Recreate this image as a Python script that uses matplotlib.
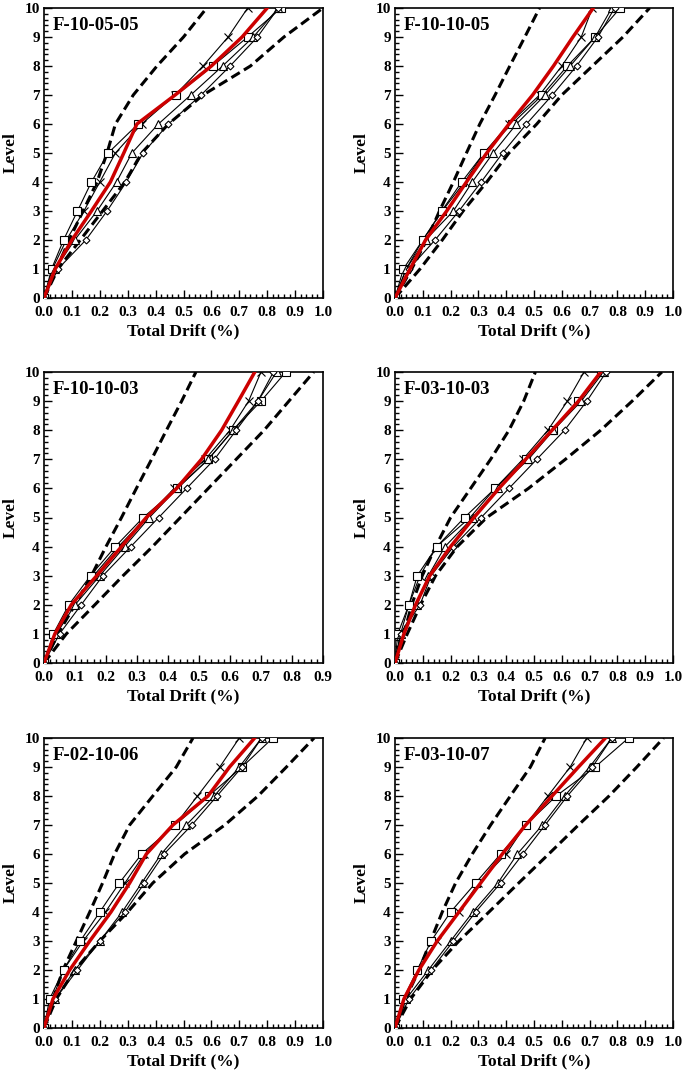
import matplotlib
matplotlib.use("Agg")
import matplotlib.pyplot as plt
from matplotlib.ticker import MultipleLocator
import numpy as np

plt.rcParams['font.family'] = ['Liberation Serif', 'DejaVu Serif']
plt.rcParams['font.weight'] = 'bold'

levels = [0, 1, 2, 3, 4, 5, 6, 7, 8, 9, 10]
panel_titles = ["F-10-05-05", "F-10-10-05", "F-10-10-03", "F-03-10-03", "F-02-10-06", "F-03-10-07"]
panel_xmax = [1.0, 1.0, 0.9, 1.0, 1.0, 1.0]

# upper (left) dashed bound
upper_bound = [
    [0, 0.045, 0.09, 0.14, 0.19, 0.226, 0.256, 0.32, 0.405, 0.50, 0.583],
    [0, 0.06, 0.114, 0.16, 0.21, 0.257, 0.305, 0.36, 0.413, 0.467, 0.52],
    [0, 0.045, 0.10, 0.153, 0.20, 0.25, 0.298, 0.347, 0.395, 0.444, 0.49],
    [0, 0.032, 0.06, 0.098, 0.146, 0.20, 0.272, 0.344, 0.41, 0.463, 0.505],
    [0, 0.032, 0.068, 0.116, 0.164, 0.21, 0.253, 0.307, 0.39, 0.474, 0.534],
    [0, 0.038, 0.086, 0.128, 0.17, 0.218, 0.278, 0.344, 0.415, 0.487, 0.54],
]
# lower (right) dashed bound
lower_bound = [
    [0, 0.05, 0.13, 0.21, 0.29, 0.35, 0.446, 0.57, 0.74, 0.86, 1.0],
    [0, 0.09, 0.17, 0.245, 0.33, 0.41, 0.51, 0.60, 0.71, 0.82, 0.916],
    [0, 0.072, 0.164, 0.255, 0.35, 0.44, 0.53, 0.62, 0.71, 0.79, 0.87],
    [0, 0.044, 0.092, 0.146, 0.224, 0.33, 0.48, 0.613, 0.74, 0.853, 0.96],
    [0, 0.044, 0.11, 0.20, 0.30, 0.39, 0.504, 0.648, 0.767, 0.869, 0.968],
    [0, 0.056, 0.134, 0.23, 0.338, 0.445, 0.553, 0.66, 0.77, 0.87, 0.966],
]
# mean response (red)
mean_drift = [
    [0, 0.04, 0.10, 0.17, 0.238, 0.286, 0.333, 0.47, 0.60, 0.71, 0.80],
    [0, 0.054, 0.11, 0.186, 0.257, 0.33, 0.41, 0.495, 0.57, 0.64, 0.713],
    [0, 0.035, 0.088, 0.17, 0.25, 0.33, 0.428, 0.508, 0.573, 0.627, 0.68],
    [0, 0.032, 0.074, 0.125, 0.20, 0.284, 0.374, 0.47, 0.565, 0.66, 0.74],
    [0, 0.032, 0.092, 0.164, 0.24, 0.307, 0.367, 0.462, 0.588, 0.665, 0.755],
    [0, 0.032, 0.086, 0.152, 0.23, 0.308, 0.386, 0.47, 0.565, 0.66, 0.757],
]
# individual records
rec_x = [
    [0, 0.03, 0.08, 0.143, 0.20, 0.256, 0.35, 0.47, 0.57, 0.66, 0.73],
    [0, 0.04, 0.10, 0.17, 0.25, 0.32, 0.41, 0.52, 0.60, 0.67, 0.71],
    [0, 0.04, 0.09, 0.16, 0.24, 0.33, 0.42, 0.52, 0.60, 0.66, 0.70],
    [0, 0.02, 0.05, 0.09, 0.15, 0.27, 0.36, 0.46, 0.55, 0.62, 0.68],
    [0, 0.03, 0.07, 0.14, 0.22, 0.29, 0.36, 0.47, 0.55, 0.63, 0.70],
    [0, 0.04, 0.08, 0.15, 0.23, 0.30, 0.40, 0.47, 0.55, 0.63, 0.69],
]
rec_square = [
    [0, 0.027, 0.07, 0.12, 0.17, 0.23, 0.337, 0.474, 0.605, 0.73, 0.85],
    [0, 0.03, 0.10, 0.168, 0.24, 0.32, 0.42, 0.53, 0.62, 0.72, 0.81],
    [0, 0.03, 0.08, 0.15, 0.23, 0.32, 0.43, 0.53, 0.61, 0.70, 0.78],
    [0, 0.01, 0.05, 0.08, 0.15, 0.25, 0.36, 0.47, 0.57, 0.66, 0.74],
    [0, 0.02, 0.07, 0.13, 0.20, 0.27, 0.35, 0.47, 0.59, 0.71, 0.82],
    [0, 0.03, 0.08, 0.13, 0.20, 0.29, 0.38, 0.47, 0.58, 0.72, 0.84],
]
rec_triangle = [
    [0, 0.04, 0.11, 0.19, 0.26, 0.315, 0.41, 0.526, 0.64, 0.75, 0.84],
    [0, 0.04, 0.11, 0.21, 0.278, 0.353, 0.437, 0.54, 0.63, 0.72, 0.78],
    [0, 0.04, 0.10, 0.18, 0.26, 0.34, 0.43, 0.53, 0.61, 0.69, 0.75],
    [0, 0.02, 0.08, 0.12, 0.18, 0.28, 0.37, 0.48, 0.57, 0.67, 0.75],
    [0, 0.04, 0.11, 0.20, 0.28, 0.35, 0.42, 0.51, 0.61, 0.70, 0.78],
    [0, 0.04, 0.12, 0.20, 0.28, 0.37, 0.44, 0.53, 0.61, 0.70, 0.78],
]
rec_diamond = [
    [0, 0.05, 0.15, 0.226, 0.295, 0.355, 0.446, 0.563, 0.667, 0.765, 0.84],
    [0, 0.05, 0.144, 0.23, 0.31, 0.387, 0.473, 0.566, 0.653, 0.73, 0.79],
    [0, 0.05, 0.12, 0.19, 0.28, 0.37, 0.46, 0.55, 0.62, 0.69, 0.74],
    [0, 0.02, 0.09, 0.13, 0.21, 0.31, 0.41, 0.51, 0.61, 0.69, 0.76],
    [0, 0.04, 0.12, 0.20, 0.29, 0.36, 0.43, 0.53, 0.62, 0.71, 0.78],
    [0, 0.05, 0.13, 0.21, 0.29, 0.38, 0.46, 0.54, 0.62, 0.71, 0.78],
]

fig = plt.figure(figsize=(6.85, 10.75), dpi=100)

W, H = 685.0, 1075.0
col_lr = [(44, 323), (395, 673)]
row_tb = [(8, 298), (372, 663), (738, 1028)]

for i in range(6):
    r, c = divmod(i, 2)
    l, rr = col_lr[c]
    t, b = row_tb[r]
    ax = fig.add_axes([l / W, 1 - b / H, (rr - l) / W, (b - t) / H])

    ax.plot(upper_bound[i], levels, color='black', lw=2.2, ls=(0, (3.2, 1.6)), zorder=2)
    ax.plot(lower_bound[i], levels, color='black', lw=2.2, ls=(0, (3.2, 1.6)), zorder=2)
    rec_kw = dict(color='black', lw=0.8, mfc='white', mec='black', mew=0.8, zorder=3)
    ax.plot(rec_x[i], levels, marker='x', ms=6, **rec_kw)
    ax.plot(rec_square[i], levels, marker='s', ms=6, **rec_kw)
    ax.plot(rec_triangle[i], levels, marker='^', ms=6, **rec_kw)
    ax.plot(rec_diamond[i], levels, marker='D', ms=3.5, **rec_kw)
    ax.plot(mean_drift[i], levels, color='#cc0000', lw=2.5, zorder=4)

    xmax = panel_xmax[i]
    ax.set_xlim(0, xmax)
    ax.set_ylim(0, 10)
    ax.xaxis.set_major_locator(MultipleLocator(0.1))
    ax.xaxis.set_minor_locator(MultipleLocator(0.02))
    ax.yaxis.set_major_locator(MultipleLocator(1))
    ax.yaxis.set_minor_locator(MultipleLocator(0.2))
    ax.set_xticklabels([f"{v:.1f}" for v in ax.get_xticks()])
    ax.tick_params(which='both', direction='in', top=False, right=False,
                   labelsize=11)
    ax.tick_params(axis='x', pad=6)
    ax.tick_params(axis='y', pad=3)
    ax.tick_params(which='major', length=6, width=1)
    ax.tick_params(which='minor', length=3, width=1)
    for lab in ax.get_xticklabels() + ax.get_yticklabels():
        lab.set_fontweight('bold')
    for sp in ax.spines.values():
        sp.set_linewidth(1.2)
    ax.set_xlabel("Total Drift (%)", fontsize=12.5, fontweight='bold', labelpad=3)
    ax.set_ylabel("Level", fontsize=12.5, fontweight='bold', labelpad=4)
    ax.text(0.03, 0.94, panel_titles[i], transform=ax.transAxes,
            fontsize=13.5, fontweight='bold', ha='left', va='center')

fig.savefig("out.png", dpi=100)
